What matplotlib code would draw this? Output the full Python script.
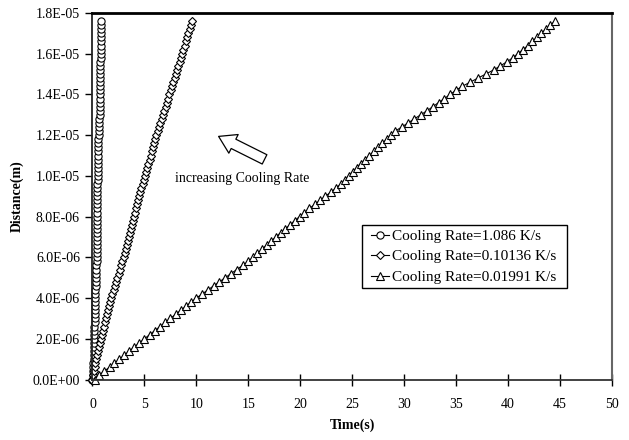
import numpy as np
import matplotlib
matplotlib.use('Agg')
import matplotlib.pyplot as plt
from matplotlib.ticker import FuncFormatter
from matplotlib.patches import Rectangle

plt.rcParams['font.family'] = ['Liberation Serif', 'DejaVu Serif']
plt.rcParams['font.size'] = 10

# distance steps, in micrometres (converted to metres below)
dist_um = [0.0, 0.2, 0.4, 0.6, 0.8, 1.0, 1.2, 1.4, 1.6, 1.8,
           2.0, 2.2, 2.4, 2.6, 2.8, 3.0, 3.2, 3.4, 3.6, 3.8,
           4.0, 4.2, 4.4, 4.6, 4.8, 5.0, 5.2, 5.4, 5.6, 5.8,
           6.0, 6.2, 6.4, 6.6, 6.8, 7.0, 7.2, 7.4, 7.6, 7.8,
           8.0, 8.2, 8.4, 8.6, 8.8, 9.0, 9.2, 9.4, 9.6, 9.8,
           10.0, 10.2, 10.4, 10.6, 10.8, 11.0, 11.2, 11.4, 11.6, 11.8,
           12.0, 12.2, 12.4, 12.6, 12.8, 13.0, 13.2, 13.4, 13.6, 13.8,
           14.0, 14.2, 14.4, 14.6, 14.8, 15.0, 15.2, 15.4, 15.6, 15.8,
           16.0, 16.2, 16.4, 16.6, 16.8, 17.0, 17.2, 17.4, 17.6]

# time (s) for each cooling rate
t_fast = [0.00, 0.02, 0.04, 0.06, 0.08, 0.10, 0.11, 0.12, 0.13, 0.14,
          0.15, 0.17, 0.18, 0.19, 0.20, 0.21, 0.22, 0.23, 0.24, 0.25,
          0.27, 0.28, 0.29, 0.31, 0.32, 0.33, 0.35, 0.36, 0.37, 0.39,
          0.40, 0.40, 0.41, 0.41, 0.42, 0.42, 0.43, 0.43, 0.44, 0.44,
          0.45, 0.45, 0.45, 0.46, 0.46, 0.47, 0.47, 0.48, 0.48, 0.49,
          0.50, 0.51, 0.51, 0.52, 0.53, 0.54, 0.54, 0.55, 0.56, 0.58,
          0.59, 0.61, 0.63, 0.64, 0.66, 0.68, 0.69, 0.71, 0.73, 0.73,
          0.74, 0.74, 0.75, 0.75, 0.76, 0.76, 0.77, 0.77, 0.77, 0.78,
          0.78, 0.79, 0.79, 0.80, 0.80, 0.81, 0.81, 0.82, 0.82]

t_mid = [0.00, 0.07, 0.14, 0.21, 0.29, 0.36, 0.43, 0.50, 0.60, 0.69,
         0.79, 0.88, 0.98, 1.07, 1.17, 1.26, 1.36, 1.45, 1.56, 1.68,
         1.80, 1.92, 2.04, 2.16, 2.28, 2.40, 2.52, 2.64, 2.76, 2.88,
         3.00, 3.10, 3.20, 3.30, 3.40, 3.50, 3.60, 3.70, 3.80, 3.90,
         4.00, 4.10, 4.20, 4.30, 4.40, 4.50, 4.60, 4.71, 4.82, 4.93,
         5.04, 5.16, 5.27, 5.38, 5.49, 5.60, 5.71, 5.82, 5.93, 6.04,
         6.16, 6.29, 6.41, 6.54, 6.66, 6.79, 6.91, 7.04, 7.16, 7.29,
         7.41, 7.54, 7.66, 7.79, 7.91, 8.03, 8.15, 8.27, 8.39, 8.51,
         8.64, 8.76, 8.88, 9.00, 9.12, 9.24, 9.36, 9.48, 9.60]

t_slow = [0.20, 0.60, 1.10, 1.64, 2.12, 2.60, 3.08, 3.56, 4.04, 4.52,
          5.00, 5.50, 6.00, 6.50, 7.00, 7.50, 8.00, 8.50, 9.00, 9.50,
          10.00, 10.56, 11.11, 11.67, 12.22, 12.78, 13.33, 13.89, 14.44, 15.00,
          15.44, 15.88, 16.31, 16.75, 17.19, 17.64, 18.10, 18.56, 19.01, 19.47,
          19.93, 20.39, 20.88, 21.40, 21.91, 22.42, 22.93, 23.44, 23.89, 24.27,
          24.65, 25.03, 25.41, 25.81, 26.23, 26.65, 27.06, 27.48, 27.90, 28.30,
          28.70, 29.15, 29.76, 30.37, 30.98, 31.59, 32.20, 32.76, 33.31, 33.87,
          34.43, 34.98, 35.59, 36.34, 37.09, 37.85, 38.60, 39.24, 39.88, 40.45,
          40.94, 41.43, 41.91, 42.33, 42.76, 43.19, 43.62, 44.06, 44.50]

labels = ['Cooling Rate=1.086 K/s', 'Cooling Rate=0.10136 K/s', 'Cooling Rate=0.01991 K/s']

dist = np.array(dist_um) * 1e-6

fig = plt.figure(figsize=(6.29, 4.4), dpi=100)
ax = fig.add_axes([0.147, 0.1375, 0.826, 0.833])

style = dict(color='black', lw=0.8, mfc='white', mec='black', mew=0.8, clip_on=False)
ax.plot(t_fast, dist, marker='o', ms=5.2, label=labels[0], **style)
ax.plot(t_mid, dist, marker='D', ms=3.8, label=labels[1], **style)
ax.plot(t_slow, dist, marker='^', ms=5.5, label=labels[2], **style)

ax.set_xlim(0, 50)
ax.set_ylim(0, 1.8e-5)
ax.set_xticks(np.arange(0, 51, 5))
ax.set_yticks(np.arange(0, 1.81e-5, 2e-6))
ax.yaxis.set_major_formatter(FuncFormatter(lambda v, p: format(v, '.1E')))

ax.tick_params(axis='x', direction='inout', length=8, width=1, pad=9, colors='black')
ax.tick_params(axis='y', direction='out', length=5, width=1, pad=4, colors='black')

ax.spines['top'].set_linewidth(2)
ax.spines['top'].set_color('black')
ax.spines['right'].set_linewidth(1.5)
ax.spines['right'].set_color('#666666')
ax.spines['left'].set_linewidth(1.3)
ax.spines['left'].set_color('#222222')
ax.spines['bottom'].set_linewidth(1.3)
ax.spines['bottom'].set_color('#333333')

ax.set_xlabel('Time(s)', fontweight='bold', labelpad=6)
ax.set_ylabel('Distance(m)', fontweight='bold', labelpad=6)

# arrow and note
ax.annotate('', xy=(11.9, 12.0e-6), xytext=(16.8, 10.75e-6),
            arrowprops=dict(arrowstyle='simple,head_width=1.5,head_length=1.2,tail_width=0.75',
                            mutation_scale=10, fc='white', ec='black', lw=0.9))
ax.text(7.96, 9.85e-6, 'increasing Cooling Rate', ha='left', va='center')

# legend with an Excel-like box
ax.add_patch(Rectangle((0.519, 0.2497), 0.394, 0.1719, transform=ax.transAxes,
                       fc='white', ec='black', lw=1.0, zorder=4))
leg = ax.legend(loc='upper left', bbox_to_anchor=(0.536, 0.41), frameon=False,
                handlelength=1.15, handletextpad=0.25, labelspacing=0.45,
                borderpad=0, borderaxespad=0, fontsize=11)
leg.set_zorder(5)

fig.savefig('out.png', dpi=100)
